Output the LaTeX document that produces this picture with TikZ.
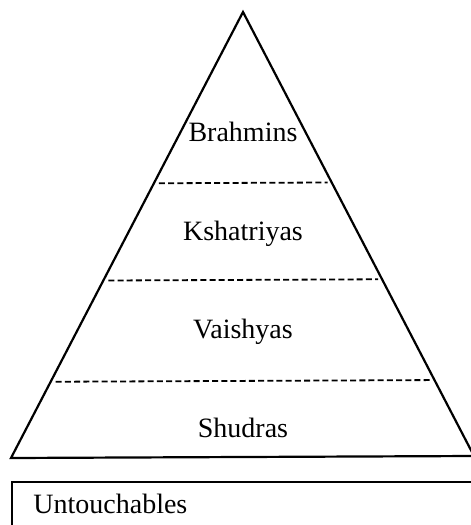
\documentclass[tikz,border=0pt]{standalone}
\usepackage{fontspec}
\setmainfont{Liberation Serif}
\usepackage{tikz}
\usetikzlibrary{calc}
\tikzset{
  edge/.style={line width=1.1pt, draw=black},
  sep/.style={line width=0.9pt, dash pattern=on 3pt off 1.6pt},
  caste/.style={anchor=base, font=\fontsize{14}{16}\selectfont, inner sep=0pt},
}
\begin{document}
\begin{tikzpicture}[x=0.5pt,y=-0.5pt]
    \useasboundingbox (0,0) rectangle (471,525);
    \clip (0,0) rectangle (471,525);
    % pyramid
    \coordinate (apex) at (243,12);
    \coordinate (bl) at (11,458);
    \coordinate (br) at (474,456);
    \draw[edge, line join=miter] (bl) -- (apex) -- (br) -- cycle;
    % layer borders
    \foreach \t/\name in {0.384/ab, 0.602/bc, 0.829/cd}{
      \coordinate (\name-l) at ($(apex)!\t!(bl)+(5,0)$);
      \coordinate (\name-r) at ($(apex)!\t!(br)+(-4,0)$);
      \draw[sep] (\name-l) -- (\name-r);
    }
    \node[caste] (brahmins) at (243,141) {Brahmins};
    \node[caste] (kshatriyas) at (243,240) {Kshatriyas};
    \node[caste] (vaishyas) at (243,338) {Vaishyas};
    \node[caste] (shudras) at (243,437) {Shudras};
    % box below
    \draw[edge] (12,482) rectangle (490,540);
    \node[caste, anchor=base west] (untouchables) at (33,513) {Untouchables};
\end{tikzpicture}
\end{document}
